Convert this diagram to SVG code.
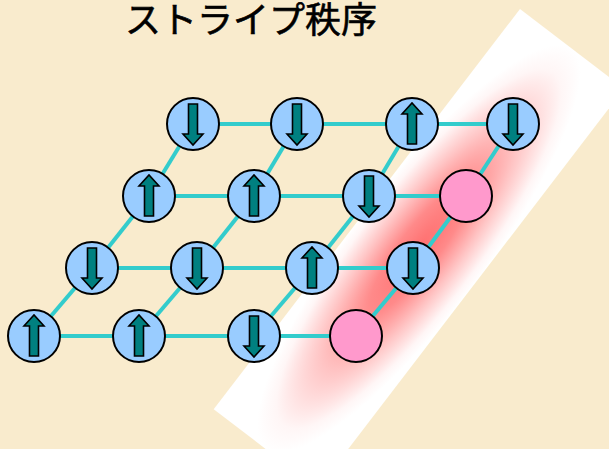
<svg xmlns="http://www.w3.org/2000/svg" xmlns:xlink="http://www.w3.org/1999/xlink" width="609" height="449" viewBox="0 0 609 449">
<style>
.edge{stroke:#33cccc;stroke-width:4;fill:none}
.spin{fill:#99ccff;stroke:#000;stroke-width:2}
.hole{fill:#ff99cc;stroke:#000;stroke-width:2}
.arrow{fill:#008080;stroke:#000;stroke-width:1.6;stroke-linejoin:miter}
.title{font-family:"Noto Sans CJK JP","Noto Sans CJK SC",sans-serif;font-size:36px;fill:#000;stroke:#000;stroke-width:0.6}
</style>
<defs>
<radialGradient id="redglow" cx="0.5" cy="0.5" r="0.5">
<stop offset="0" stop-color="#ff7070"/>
<stop offset="0.3" stop-color="#ff8a8a"/>
<stop offset="0.6" stop-color="#ffc4c4"/>
<stop offset="0.88" stop-color="#fff6f6"/>
<stop offset="1" stop-color="#ffffff"/>
</radialGradient>
<path id="dn" class="arrow" d="M-4.5,-20 H4.5 V10 H10 L0,21 L-10,10 H-4.5 Z"/>
</defs>
<rect x="0" y="0" width="609" height="449" fill="#f9ebcd"/>
<text class="title" x="251" y="33" text-anchor="middle">ストライプ秩序</text>
<g id="stripe" transform="translate(520,9) rotate(127.43)">
<rect x="0" y="-131" width="504" height="131" fill="url(#redglow)"/>
</g>
<g id="connectors">
<line class="edge" x1="193" y1="124" x2="513" y2="124"/>
<line class="edge" x1="149" y1="196" x2="466" y2="196"/>
<line class="edge" x1="92" y1="268" x2="413" y2="268"/>
<line class="edge" x1="34" y1="336" x2="356" y2="336"/>
<line class="edge" x1="193" y1="124" x2="149" y2="196"/>
<line class="edge" x1="297" y1="124" x2="254" y2="196"/>
<line class="edge" x1="412" y1="124" x2="369" y2="196"/>
<line class="edge" x1="513" y1="124" x2="466" y2="196"/>
<line class="edge" x1="149" y1="196" x2="92" y2="268"/>
<line class="edge" x1="254" y1="196" x2="197" y2="268"/>
<line class="edge" x1="369" y1="196" x2="312" y2="268"/>
<line class="edge" x1="466" y1="196" x2="413" y2="268"/>
<line class="edge" x1="92" y1="268" x2="34" y2="336"/>
<line class="edge" x1="197" y1="268" x2="139" y2="336"/>
<line class="edge" x1="312" y1="268" x2="254" y2="336"/>
<line class="edge" x1="413" y1="268" x2="356" y2="336"/>
</g>
<g id="n11" transform="translate(193,124)"><circle class="spin" r="26"/><use xlink:href="#dn"/></g>
<g id="n12" transform="translate(297,124)"><circle class="spin" r="26"/><use xlink:href="#dn"/></g>
<g id="n13" transform="translate(412,124)"><circle class="spin" r="26"/><use xlink:href="#dn" transform="rotate(180)"/></g>
<g id="n14" transform="translate(513,124)"><circle class="spin" r="26"/><use xlink:href="#dn"/></g>
<g id="n21" transform="translate(149,196)"><circle class="spin" r="26"/><use xlink:href="#dn" transform="rotate(180)"/></g>
<g id="n22" transform="translate(254,196)"><circle class="spin" r="26"/><use xlink:href="#dn" transform="rotate(180)"/></g>
<g id="n23" transform="translate(369,196)"><circle class="spin" r="26"/><use xlink:href="#dn"/></g>
<g id="n24" transform="translate(466,196)"><circle class="hole" r="26"/></g>
<g id="n31" transform="translate(92,268)"><circle class="spin" r="26"/><use xlink:href="#dn"/></g>
<g id="n32" transform="translate(197,268)"><circle class="spin" r="26"/><use xlink:href="#dn"/></g>
<g id="n33" transform="translate(312,268)"><circle class="spin" r="26"/><use xlink:href="#dn" transform="rotate(180)"/></g>
<g id="n34" transform="translate(413,268)"><circle class="spin" r="26"/><use xlink:href="#dn"/></g>
<g id="n41" transform="translate(34,336)"><circle class="spin" r="26"/><use xlink:href="#dn" transform="rotate(180)"/></g>
<g id="n42" transform="translate(139,336)"><circle class="spin" r="26"/><use xlink:href="#dn" transform="rotate(180)"/></g>
<g id="n43" transform="translate(254,336)"><circle class="spin" r="26"/><use xlink:href="#dn"/></g>
<g id="n44" transform="translate(356,336)"><circle class="hole" r="26"/></g>
</svg>
